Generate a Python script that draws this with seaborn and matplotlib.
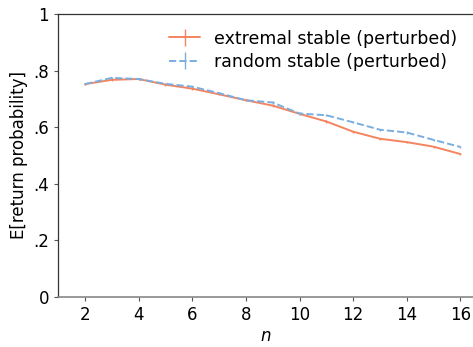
import matplotlib
matplotlib.use("Agg")
import matplotlib.pyplot as plt
import seaborn as sns

n_values = [2, 3, 4, 5, 6, 7, 8, 9, 10, 11, 12, 13, 14, 15, 16]
extremal = [0.752, 0.767, 0.770, 0.750, 0.736, 0.716, 0.695, 0.676, 0.647, 0.620, 0.584, 0.559, 0.547, 0.531, 0.505]
random_ = [0.752, 0.774, 0.770, 0.753, 0.743, 0.720, 0.695, 0.687, 0.648, 0.642, 0.617, 0.591, 0.581, 0.555, 0.530]
extremal_err = [0.004] * len(n_values)
random_err = [0.004] * len(n_values)

y_ticks = [0, 0.2, 0.4, 0.6, 0.8, 1.0]
y_tick_labels = ["0", ".2", ".4", ".6", ".8", "1"]

sns.set_style("ticks")
plt.rcParams["font.family"] = ["DejaVu Sans"]
plt.rcParams["text.color"] = "black"
plt.rcParams["axes.labelcolor"] = "black"
plt.rcParams["xtick.color"] = "black"
plt.rcParams["ytick.color"] = "black"

fig = plt.figure(figsize=(4.73, 3.47), dpi=100)
ax = fig.add_axes([0.123, 0.144, 0.877, 0.816])

ax.errorbar(n_values, extremal, yerr=extremal_err, color="#F4845F", lw=1.4,
            elinewidth=1.0, label="extremal stable (perturbed)")
ax.errorbar(n_values, random_, yerr=random_err, color="#7AAEE0", lw=1.4, ls="--",
            elinewidth=1.0, label="random stable (perturbed)")

ax.set_xlim(1, 16.47)
ax.set_ylim(0, 1)
ax.set_xticks(range(2, 17, 2))
ax.set_yticks(y_ticks)
ax.set_yticklabels(y_tick_labels)
ax.tick_params(labelsize=12, length=3)
ax.tick_params(color="#555555")
ax.set_xlabel("$n$", fontsize=12, labelpad=2)
ax.set_ylabel("E[return probability]", fontsize=12)

ax.spines["right"].set_visible(False)
for s in ["left", "top"]:
    ax.spines[s].set_color("#333333")
    ax.spines[s].set_linewidth(0.9)
ax.spines["bottom"].set_color("#888888")
ax.spines["bottom"].set_linewidth(1.2)

ax.legend(loc="upper right", frameon=False, fontsize=12.5, handlelength=1.8,
          borderaxespad=0.5, labelspacing=0.3)

fig.savefig("out.png", dpi=100)
